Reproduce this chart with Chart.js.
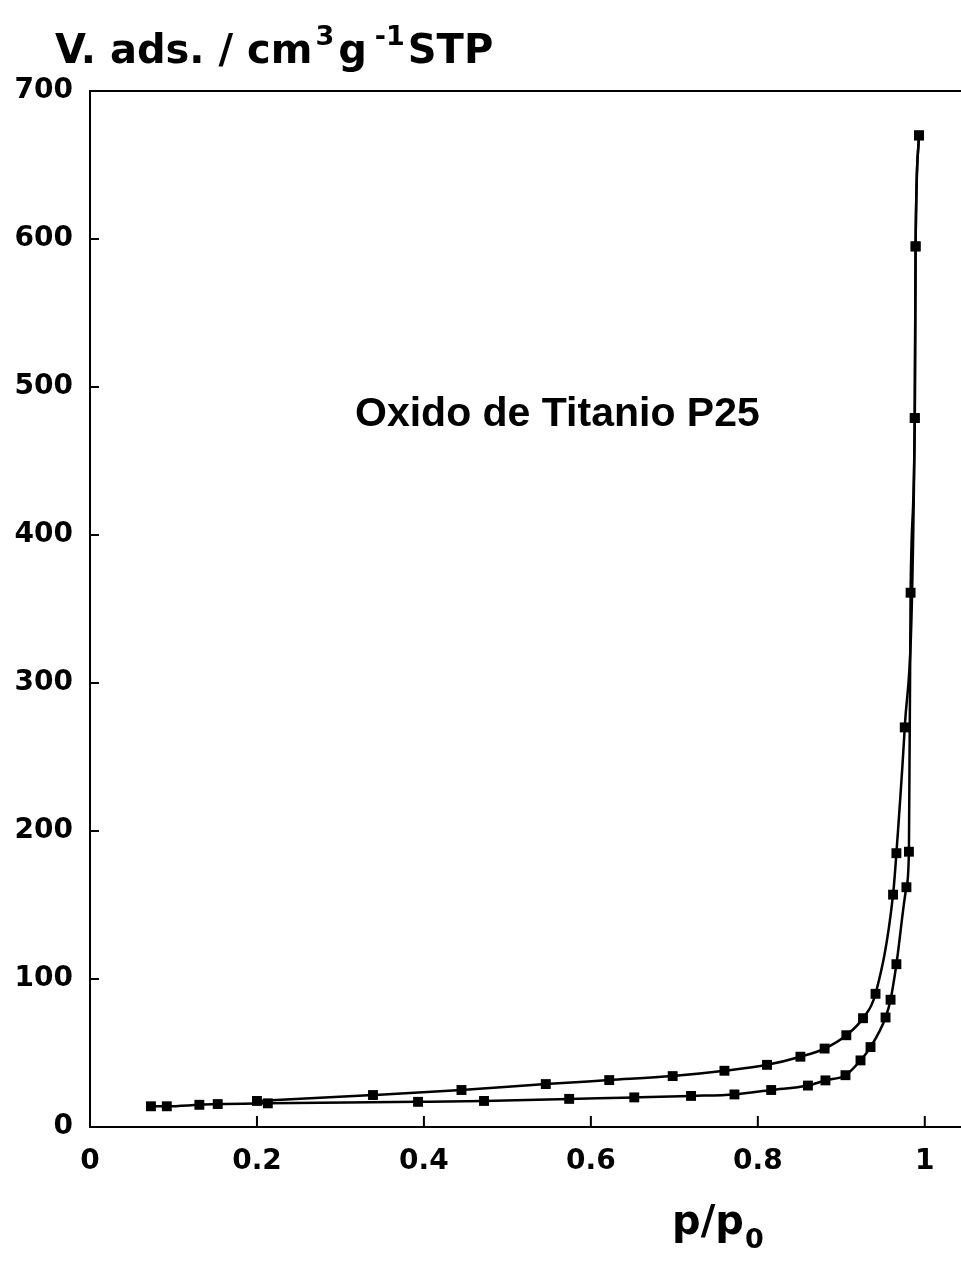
<!DOCTYPE html>
<html>
<head>
<meta charset="utf-8">
<script src="https://cdn.jsdelivr.net/npm/chart.js@4.4.0/dist/chart.umd.min.js"></script>
<style>
  body { margin: 0; background: #fff; }
  canvas { display: block; }
</style>
</head>
<body>
<canvas id="chart1" width="961" height="1274"></canvas>
<script>
// adsorption branch (lower curve)
const adsP = [0.073, 0.092, 0.131, 0.153, 0.213, 0.393, 0.472, 0.574, 0.652, 0.720, 0.772, 0.816, 0.860, 0.881, 0.905, 0.923, 0.935, 0.953, 0.959, 0.966, 0.978, 0.981, 0.983, 0.988, 0.989, 0.993];
const adsV = [14, 14, 15, 15.5, 16, 17, 17.6, 19, 20, 21, 22, 25, 28, 31.5, 35, 45, 54, 74, 86, 110, 162, 186, 361, 479, 595, 670];

// desorption branch (upper curve)
const desP = [0.200, 0.339, 0.445, 0.546, 0.622, 0.698, 0.760, 0.811, 0.851, 0.880, 0.906, 0.926, 0.941, 0.962, 0.966, 0.976, 0.988, 0.989, 0.993];
const desV = [17.6, 21.6, 25, 29, 31.7, 34.4, 38, 42, 47.5, 53, 62, 73.5, 90, 157, 185, 270, 479, 595, 670];

const xTicks = [0, 0.2, 0.4, 0.6, 0.8, 1];
const yTicks = [0, 100, 200, 300, 400, 500, 600, 700];

const sampleName = 'Oxido de Titanio P25';

const tickFont = { family: 'DejaVu Sans', size: 28, weight: 'bold' };

function toPoints(xs, ys) {
    return xs.map((x, i) => ({ x: x, y: ys[i] }));
}

const lineStyle = {
    borderColor: '#000',
    backgroundColor: '#000',
    borderWidth: 2.5,
    pointStyle: 'rect',
    pointRadius: 7,
    pointBorderWidth: 0,
    cubicInterpolationMode: 'monotone',
    fill: false
};

// texts, top border and inward ticks
const decorations = {
    id: 'decorations',
    afterDraw(chart) {
        const ctx = chart.ctx;
        const area = chart.chartArea;
        const xs = chart.scales.x;
        const ys = chart.scales.y;
        ctx.save();
        ctx.strokeStyle = '#000';
        ctx.lineWidth = 2;
        ctx.beginPath();
        ctx.moveTo(area.left, area.top);
        ctx.lineTo(chart.width, area.top);
        ctx.moveTo(area.right, area.bottom);
        ctx.lineTo(chart.width, area.bottom);
        xTicks.forEach(v => {
            const px = xs.getPixelForValue(v);
            ctx.moveTo(px, area.bottom);
            ctx.lineTo(px, area.bottom - 11);
        });
        yTicks.forEach(v => {
            const py = ys.getPixelForValue(v);
            ctx.moveTo(area.left, py);
            ctx.lineTo(area.left + 9, py);
        });
        ctx.stroke();

        ctx.fillStyle = '#000';
        ctx.textBaseline = 'alphabetic';
        ctx.textAlign = 'left';

        // y axis title
        const big = 'bold 40px "DejaVu Sans"';
        const small = 'bold 27px "DejaVu Sans"';
        let x = 55, base = 63;
        ctx.font = big;
        ctx.fillText('V. ads. / cm', x, base);
        x += ctx.measureText('V. ads. / cm').width + 3;
        ctx.font = small;
        ctx.fillText('3', x, base - 18);
        x += ctx.measureText('3').width + 4;
        ctx.font = big;
        ctx.fillText('g', x, base);
        x += ctx.measureText('g').width + 8;
        ctx.font = small;
        ctx.fillText('-1', x, base - 18);
        x += ctx.measureText('-1').width + 3;
        ctx.font = big;
        ctx.fillText('STP', x, base);

        // x axis title
        ctx.font = big;
        ctx.fillText('p/p', 672, 1234);
        const w = ctx.measureText('p/p').width;
        ctx.font = small;
        ctx.fillText('0', 672 + w + 1, 1248);

        // sample label
        ctx.font = 'bold 41px "Liberation Sans"';
        ctx.fillText(sampleName, 355, 426);
        ctx.restore();
    }
};

const data1 = {
    datasets: [
        Object.assign({ label: 'adsorcion', data: toPoints(adsP, adsV) }, lineStyle),
        Object.assign({ label: 'desorcion', data: toPoints(desP, desV) }, lineStyle)
    ]
};

const config1 = {
    type: 'line',
    data: data1,
    options: {
        responsive: false,
        animation: false,
        layout: { padding: { top: 91, left: 0, right: 0, bottom: 0 } },
        plugins: {
            legend: { display: false },
            tooltip: { enabled: false }
        },
        scales: {
            x: {
                type: 'linear',
                min: 0,
                max: 1.035,
                afterBuildTicks: (scale) => { scale.ticks = xTicks.map(v => ({ value: v })); },
                afterFit: (scale) => {
                    scale.height = 147;
                    scale.paddingLeft = 0;
                    scale.paddingRight = 0;
                },
                grid: { drawOnChartArea: false, drawTicks: false },
                border: { color: '#000', width: 2 },
                ticks: {
                    color: '#000', font: tickFont, padding: 18, maxRotation: 0,
                    callback: (v) => String(v)
                }
            },
            y: {
                min: 0,
                max: 700,
                afterBuildTicks: (scale) => { scale.ticks = yTicks.map(v => ({ value: v })); },
                afterFit: (scale) => {
                    scale.width = 90;
                    scale.paddingTop = 0;
                    scale.paddingBottom = 0;
                },
                grid: { drawOnChartArea: false, drawTicks: false },
                border: { color: '#000', width: 2 },
                ticks: { color: '#000', font: tickFont, padding: 17 }
            }
        }
    },
    plugins: [decorations]
};

const myChart1 = new Chart(document.getElementById('chart1').getContext('2d'), config1);
</script>
</body>
</html>
